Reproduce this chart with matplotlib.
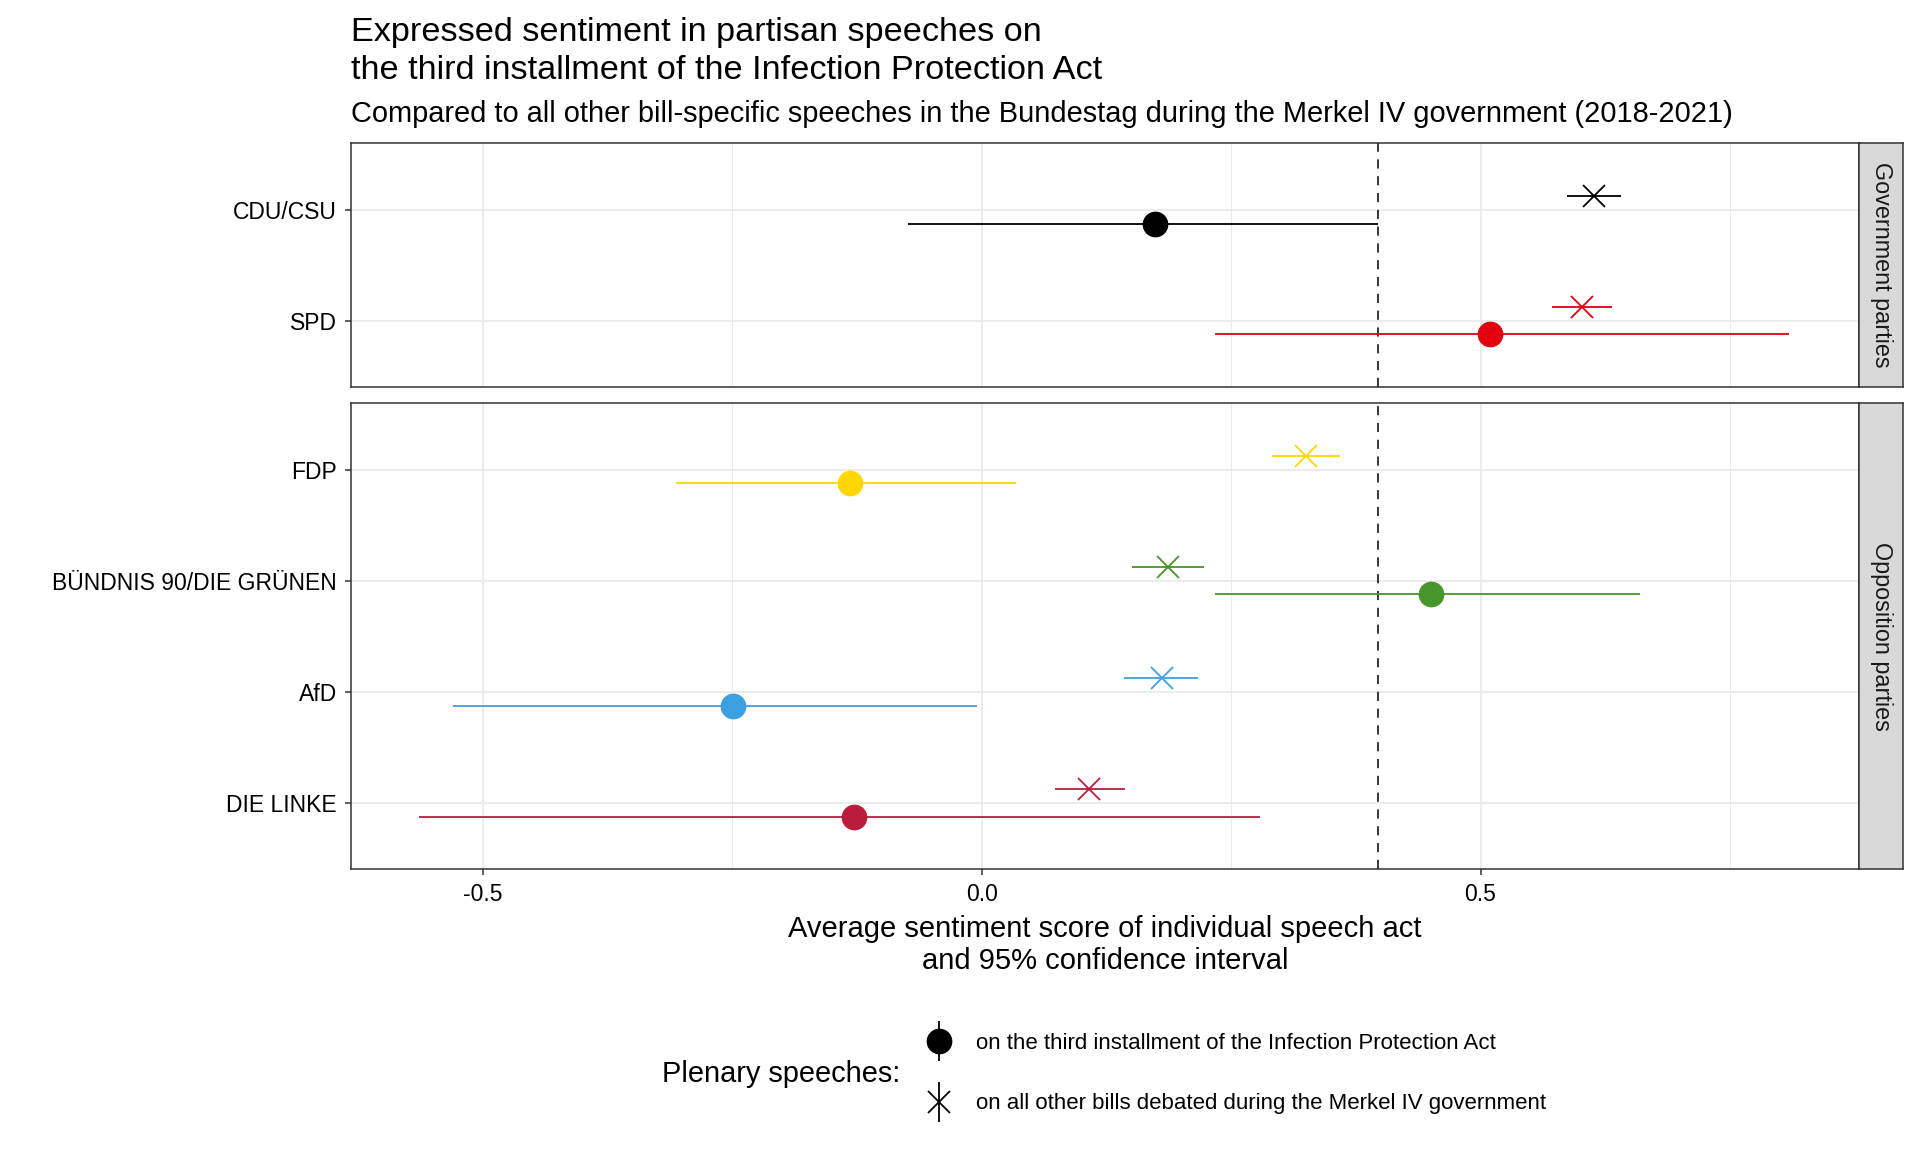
import matplotlib
matplotlib.use("Agg")
import matplotlib.pyplot as plt
import numpy as np
from matplotlib.lines import Line2D
from matplotlib.legend_handler import HandlerTuple

plt.rcParams["font.family"] = ["Liberation Sans", "DejaVu Sans"]

# data
gov_parties = ["CDU/CSU", "SPD"]
opp_parties = ["FDP", "BÜNDNIS 90/DIE GRÜNEN", "AfD", "DIE LINKE"]
party_colors = {
    "CDU/CSU": "#000000",
    "SPD": "#E3000F",
    "FDP": "#FFD600",
    "BÜNDNIS 90/DIE GRÜNEN": "#46962B",
    "AfD": "#3E9FE0",
    "DIE LINKE": "#BA1C3E",
}
# speeches on the third installment of the Infection Protection Act
ifsg_mean = {"CDU/CSU": 0.174, "SPD": 0.510, "FDP": -0.132,
             "BÜNDNIS 90/DIE GRÜNEN": 0.450, "AfD": -0.249, "DIE LINKE": -0.128}
ifsg_lo = {"CDU/CSU": -0.074, "SPD": 0.234, "FDP": -0.307,
           "BÜNDNIS 90/DIE GRÜNEN": 0.234, "AfD": -0.530, "DIE LINKE": -0.564}
ifsg_hi = {"CDU/CSU": 0.397, "SPD": 0.809, "FDP": 0.034,
           "BÜNDNIS 90/DIE GRÜNEN": 0.660, "AfD": -0.005, "DIE LINKE": 0.279}
# all other bill-specific speeches
other_mean = {"CDU/CSU": 0.614, "SPD": 0.602, "FDP": 0.325,
              "BÜNDNIS 90/DIE GRÜNEN": 0.187, "AfD": 0.181, "DIE LINKE": 0.107}
other_lo = {"CDU/CSU": 0.587, "SPD": 0.572, "FDP": 0.291,
            "BÜNDNIS 90/DIE GRÜNEN": 0.151, "AfD": 0.143, "DIE LINKE": 0.073}
other_hi = {"CDU/CSU": 0.641, "SPD": 0.632, "FDP": 0.359,
            "BÜNDNIS 90/DIE GRÜNEN": 0.223, "AfD": 0.217, "DIE LINKE": 0.144}
overall_mean = 0.397

x_ticks = [-0.5, 0.0, 0.5]
x_minor = [-0.25, 0.25, 0.75]
x_lim = (-0.632, 0.879)
dodge = 0.125

fig = plt.figure(figsize=(19.2, 11.52), dpi=100)

left, width = 0.183, 0.785
strip_w = 0.0234
ax_top = fig.add_axes([left, 0.664, width, 0.2116])
ax_bot = fig.add_axes([left, 0.2453, width, 0.405])


def draw_panel(ax, parties, strip_label):
    n = len(parties)
    ys = np.arange(n, 0, -1)
    for y, p in zip(ys, parties):
        c = party_colors[p]
        ax.plot([ifsg_lo[p], ifsg_hi[p]], [y - dodge] * 2, color=c, lw=1.3,
                solid_capstyle="butt", zorder=3)
        ax.plot([ifsg_mean[p]], [y - dodge], marker="o", ms=17.5, color=c,
                mec=c, zorder=4)
        ax.plot([other_lo[p], other_hi[p]], [y + dodge] * 2, color=c, lw=1.3,
                solid_capstyle="butt", zorder=3)
        ax.plot([other_mean[p]], [y + dodge], marker="x", ms=16, mew=1.3,
                color=c, zorder=4)
    ax.axvline(overall_mean, color="black", lw=1.1, dashes=(6, 5), zorder=2)
    ax.set_xlim(*x_lim)
    ax.set_ylim(0.4, n + 0.6)
    ax.set_yticks(ys)
    ax.set_yticklabels(parties, fontsize=16.5, color="black")
    ax.set_xticks(x_ticks)
    ax.set_xticks(x_minor, minor=True)
    ax.grid(which="major", color="#EBEBEB", lw=1.3, zorder=0)
    ax.grid(which="minor", axis="x", color="#EBEBEB", lw=0.7, zorder=0)
    ax.tick_params(axis="y", length=4.5, width=1.1, color="#333333", pad=6)
    ax.tick_params(which="minor", length=0)
    ax.set_axisbelow(True)
    for s in ax.spines.values():
        s.set_color("#333333")
        s.set_linewidth(1.1)

    pos = ax.get_position()
    sax = fig.add_axes([pos.x1, pos.y0, strip_w, pos.height])
    sax.set_facecolor("#D9D9D9")
    sax.set_xticks([])
    sax.set_yticks([])
    for s in sax.spines.values():
        s.set_color("#333333")
        s.set_linewidth(1.1)
    sax.text(0.5, 0.5, strip_label, rotation=270, ha="center", va="center",
             fontsize=16.8, color="#1A1A1A", transform=sax.transAxes)


draw_panel(ax_top, gov_parties, "Government parties")
draw_panel(ax_bot, opp_parties, "Opposition parties")

ax_top.tick_params(axis="x", which="both", length=0, labelbottom=False)
ax_bot.set_xticklabels(["-0.5", "0.0", "0.5"], fontsize=16.5, color="black")
ax_bot.tick_params(axis="x", which="major", length=4.5, width=1.1,
                   color="#333333", pad=5)
ax_bot.set_xlabel("Average sentiment score of individual speech act\n"
                  "and 95% confidence interval", fontsize=21, labelpad=7,
                  linespacing=1.15)

fig.text(left, 0.964, "Expressed sentiment in partisan speeches on",
         fontsize=24.7, va="baseline", ha="left")
fig.text(left, 0.931, "the third installment of the Infection Protection Act",
         fontsize=24.7, va="baseline", ha="left")
fig.text(left, 0.8937, "Compared to all other bill-specific speeches in the "
         "Bundestag during the Merkel IV government (2018-2021)",
         fontsize=20.9, va="baseline", ha="left")

# legend
vbar = Line2D([], [], marker="|", ms=29, mew=1.3, color="black", ls="none")
dot = Line2D([], [], marker="o", ms=17.5, color="black", ls="none")
cross = Line2D([], [], marker="x", ms=16, mew=1.3, color="black", ls="none")
fig.legend([(vbar, dot), (vbar, cross)],
           ["on the third installment of the Infection Protection Act",
            "on all other bills debated during the Merkel IV government"],
           handler_map={tuple: HandlerTuple(ndivide=1, pad=0)},
           loc="center left", bbox_to_anchor=(0.481, 0.068), frameon=False,
           fontsize=16.0, numpoints=1, handlelength=1.37, handletextpad=1.0,
           borderpad=0, borderaxespad=0, labelspacing=1.78)
fig.text(0.469, 0.068, "Plenary speeches:", fontsize=20.9, ha="right",
         va="center")

fig.savefig("out.png", dpi=100)
